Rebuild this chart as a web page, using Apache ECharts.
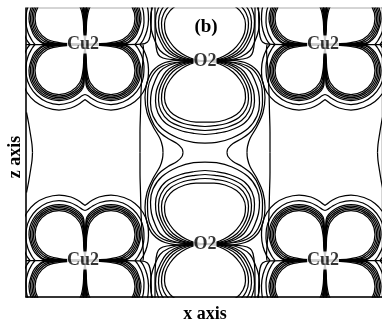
<!DOCTYPE html>
<html><head><meta charset="utf-8">
<script src="https://cdn.jsdelivr.net/npm/echarts/dist/echarts.min.js"></script>
<style>html,body{margin:0;padding:0;background:#fff}#c{width:382px;height:325px}</style>
</head><body><div id="c"></div>
<script>
// Charge-density contours in the (x,z) section through Cu2 and O2.
// Coordinates are density-grid steps, origin at the centre of the section.

const cuSites = [[-120, 108], [120, 108], [-120, -108], [120, -108]];
const oSites = [[0, 91.5], [0, -91.5]];
const cuLabel = 'Cu2';
const oLabel = 'O2';

// one d-lobe of Cu2, local (distance from vertical node, distance from horizontal node)
const cuLobe = [
  [[0,0],[12,0.6],[26,2],[38,5.2],[46.8,14],[50,26],[46.8,38],[38,46.8],[26,50],[14,46.8],[5.2,38],[2,26],[1.2,14],[0.4,5],[0,0]],
  [[0,0],[14,0.5],[26,0.9],[38.75,3.9],[48.1,13.25],[51.5,26],[48.1,38.75],[38.75,48.1],[26,51.5],[13.25,48.1],[3.9,38.75],[1.5,26],[0.9,14],[0.3,5],[0,0]],
  [[0,0],[14,0.4],[24,0.8],[39.5,2.6],[49.4,12.5],[53,26],[49.4,39.5],[39.5,49.4],[26,53],[12.5,49.4],[2.6,39.5],[1.1,26],[0.7,14],[0.25,5],[0,0]],
  [[0,0],[14,0.3],[24,0.6],[40.25,1.3],[50.7,11.75],[54.5,26],[50.7,40.25],[40.25,50.7],[26,54.5],[11.75,50.7],[1.8,40.25],[0.8,26],[0.5,14],[0.2,5],[0,0]],
  [[0,0],[14,0.25],[24,0.5],[41,0.8],[47.2,4.8],[52,11],[56,26],[52,41],[41,52],[26,56],[11,52],[1.2,41],[0.5,26],[0.35,14],[0.1,5],[0,0]],
  [[50,0],[53,4],[57,12],[59,22],[58.5,32],[55,42],[48,51],[38,57.5],[26,60],[15,58],[7,54],[2.5,51],[0,50]],
  [[55,0],[58.5,5],[62,14],[63.5,25],[62.5,37],[58,48],[50,57],[39,63],[26,65.5],[14,63.5],[6,59.5],[2,56.5],[0,55]]
];

// one p-lobe of O2, local (distance from vertical axis, distance from O2 plane)
const oLobe = [
  [[0,0],[10,1.5],[19,5],[28,11],[35,19],[39.5,28],[40.5,37],[38,46],[31.5,53.5],[20,59],[9,61],[0,61]],
  [[0,0],[13,1.4],[23,4.8],[32,10.5],[38.5,19],[42.5,28.5],[43.5,38],[41,48],[34,56.5],[21.5,62.5],[9.5,64.7],[0,65.5]],
  [[0,0],[16,1.3],[27,4.6],[35.5,10.5],[41.5,19],[45.5,29],[46.5,39],[44,50],[36.5,59.5],[23,66],[10,68.6],[0,69.5]],
  [[0,0],[19,1.2],[30.5,4.5],[39,10.5],[44.5,19.5],[48.5,29.5],[49.5,40],[47,52],[39,62.5],[24.5,69.5],[10.5,72.5],[0,73.5]],
  [[0,0],[24,1],[36,4.3],[45,10.5],[50,20],[53.5,30.5],[54.5,42],[52,55],[43,67.5],[27,77],[11.5,81.4],[0,82]]
];

// low-density contours of one quarter of the section (x <= 0, z >= 0)
const quarterLines = [
  [[-179,108],[-150,108],[-120,108]],
  [[-120,108],[-80,108],[-64,108.3],[-57.5,110.5],[-55,116],[-54,126],[-53.5,146]],
  [[0,92],[-25,92.5],[-38,93.5],[-45,96],[-48,101],[-49.5,112],[-50,128],[-50,146]],
  [[-62,108],[-61.5,103],[-62,94],[-63,80],[-64,60],[-64.5,40],[-65,20],[-65,0]],
  [[0,92],[-22,92.5],[-40,90],[-52,82],[-58,70],[-60,55],[-58,40],[-52,26],[-45,14],[-42.5,6],[-42,0]],
  [[-22,0],[-23,4],[-28,9],[-37,14],[-47,22],[-54,34],[-57.5,50],[-57,64],[-53,76],[-45,85],[-30,90],[0,91.5]],
  [[-178.5,40],[-176.5,30],[-174.5,18],[-173,8],[-172.5,0]]
];

const signs = [[1, 1], [-1, 1], [1, -1], [-1, -1]];
const curves = [];
cuSites.forEach(([cx, cz]) => signs.forEach(([sx, sz]) =>
  cuLobe.forEach(c => curves.push(c.map(([dx, dz]) => [cx + sx * dx, cz + sz * dz])))));
oSites.forEach(([ox, oz]) => signs.forEach(([sx, sz]) =>
  oLobe.forEach(c => curves.push(c.map(([dx, dz]) => [ox + sx * dx, oz + sz * dz])))));
signs.forEach(([sx, sz]) =>
  quarterLines.forEach(c => curves.push(c.map(([x, z]) => [sx * x, sz * z]))));

const lineSeries = curves.map(pts => ({
  type: 'line', data: pts, showSymbol: false, smooth: 0.35, silent: true,
  clip: true, animation: false,
  lineStyle: { color: '#000', width: 1.25 }
}));

const labelStyle = {
  show: true, position: 'inside', color: '#000', fontFamily: 'Liberation Serif',
  fontWeight: 'bold', fontSize: 18, backgroundColor: '#fff', padding: [0, 0]
};
const labelSeries = {
  type: 'scatter', symbolSize: 1, silent: true, animation: false, z: 10,
  itemStyle: { color: 'rgba(0,0,0,0)' },
  data: cuSites.map(p => ({ value: p, label: Object.assign({}, labelStyle, { formatter: cuLabel, offset: [-2, 0] }) }))
    .concat(oSites.map(p => ({ value: p, label: Object.assign({}, labelStyle, { formatter: oLabel }) })))
};

const chart = echarts.init(document.getElementById('c'), null, { renderer: 'canvas' });
const axisName = { fontFamily: 'Liberation Serif', fontWeight: 'bold', fontSize: 18, fill: '#000' };
chart.setOption({
  animation: false,
  grid: { left: 26, right: 0, top: 8, bottom: 28, show: true, borderColor: '#aaa', borderWidth: 1 },
  xAxis: { type: 'value', min: -179, max: 177, axisLine: { show: true, onZero: false, lineStyle: { color: '#000', width: 1.5 } },
    axisTick: { show: false }, axisLabel: { show: false }, splitLine: { show: false } },
  yAxis: { type: 'value', min: -144.5, max: 144.5, axisLine: { show: true, onZero: false, lineStyle: { color: '#000', width: 1.5 } },
    axisTick: { show: false }, axisLabel: { show: false }, splitLine: { show: false } },
  graphic: [
    { type: 'text', x: 205, y: 314, style: Object.assign({ text: 'x axis', textAlign: 'center', textVerticalAlign: 'middle' }, axisName) },
    { type: 'text', x: 15, y: 157, rotation: Math.PI / 2, style: Object.assign({ text: 'z axis', textAlign: 'center', textVerticalAlign: 'middle' }, axisName) },
    { type: 'text', x: 206, y: 27, z: 20, style: Object.assign({ text: '(b)', textAlign: 'center', textVerticalAlign: 'middle' }, axisName, { fontSize: 19 }) }
  ],
  series: lineSeries.concat([labelSeries])
});
</script></body></html>
